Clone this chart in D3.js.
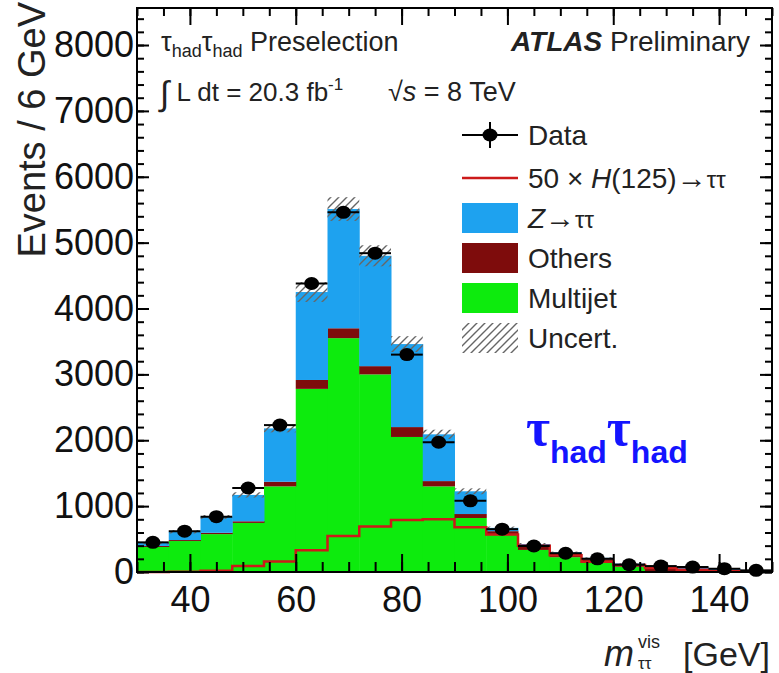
<!DOCTYPE html>
<html>
<head>
<meta charset="utf-8">
<script src="https://d3js.org/d3.v7.min.js"></script>
<style>
  body { margin: 0; background: #fff; }
  text { font-family: "Liberation Sans", Arial, sans-serif; }
</style>
</head>
<body>
<div id="chart"></div>
<script>
  // bin lower edges, GeV (6 GeV bins)
  const binLow = [30, 36, 42, 48, 54, 60, 66, 72, 78, 84, 90, 96, 102, 108, 114, 120, 126, 132, 138, 144];
  const binWidth = 6;

  // stacked backgrounds (events / bin)
  const multijet = [380, 470, 575, 745, 1300, 2780, 3550, 3000, 2050, 1300, 820, 560, 335, 225, 155, 80, 0, 0, 0, 0];
  const others   = [15, 15, 20, 25, 70, 135, 150, 125, 150, 80, 60, 60, 60, 60, 40, 40, 55, 35, 25, 10];
  const ztautau  = [45, 125, 240, 400, 810, 1335, 1810, 1675, 1260, 710, 345, 50, 30, 15, 20, 10, 35, 35, 25, 10];
  const uncert   = [20, 25, 30, 40, 60, 150, 180, 160, 120, 70, 45, 20, 15, 10, 8, 6, 5, 4, 3, 2];

  // 50 x H(125) -> tautau signal
  const higgs50 = [0, 5, 20, 90, 160, 330, 545, 690, 790, 800, 680, 570, 400, 255, 155, 105, 60, 35, 15, 5];

  // observed data
  const dataObs = [450, 620, 840, 1275, 2230, 4380, 5460, 4840, 3300, 1970, 1080, 650, 395, 285, 200, 110, 90, 75, 50, 25];

  const yMajor = [0, 1000, 2000, 3000, 4000, 5000, 6000, 7000, 8000];
  const xMajor = [40, 60, 80, 100, 120, 140];

  const colors = { multijet: '#0deb0d', others: '#7e0c0c', ztautau: '#1ea2ef', higgs: '#cc1a1a' };

  const W = 779, H = 673;
  const svg = d3.select('#chart').append('svg').attr('width', W).attr('height', H);

  const x = d3.scaleLinear().domain([30, 150]).range([137, 772]);
  const y = d3.scaleLinear().domain([0, 8562]).range([572, 8]);

  // hatch pattern for uncertainty band
  const defs = svg.append('defs');
  defs.append('pattern')
    .attr('id', 'hatch')
    .attr('patternUnits', 'userSpaceOnUse')
    .attr('width', 8).attr('height', 8)
    .append('path')
    .attr('d', 'M-1,1 l2,-2 M0,8 l8,-8 M7,9 l2,-2')
    .style('stroke', '#666')
    .style('stroke-width', 1.4);

  // stacked histogram
  const rows = binLow.map((lo, i) => ({ lo, multijet: multijet[i], others: others[i], ztautau: ztautau[i] }));
  const stack = d3.stack().keys(['multijet', 'others', 'ztautau'])(rows);

  svg.append('g').selectAll('g')
    .data(stack)
    .enter()
    .append('g')
    .style('fill', d => colors[d.key])
    .selectAll('rect')
    .data(d => d)
    .enter()
    .append('rect')
    .attr('x', d => x(d.data.lo))
    .attr('width', x(binWidth + 30) - x(30) + 0.5)
    .attr('y', d => y(d[1]))
    .attr('height', d => Math.max(0, y(d[0]) - y(d[1])));

  // uncertainty band
  const topLayer = stack[stack.length - 1];
  svg.append('g').selectAll('rect')
    .data(topLayer)
    .enter()
    .append('rect')
    .attr('x', d => x(d.data.lo))
    .attr('width', x(binWidth + 30) - x(30))
    .attr('y', (d, i) => y(d[1] + uncert[i]))
    .attr('height', (d, i) => y(d[1] - uncert[i]) - y(d[1] + uncert[i]))
    .style('fill', 'url(#hatch)');

  // signal step line
  const hPts = binLow.map((lo, i) => [lo, higgs50[i]]);
  hPts.push([binLow[binLow.length - 1] + binWidth, higgs50[higgs50.length - 1]]);
  svg.append('path')
    .datum(hPts)
    .attr('d', d3.line().x(d => x(d[0])).y(d => y(d[1])).curve(d3.curveStepAfter))
    .style('fill', 'none')
    .style('stroke', colors.higgs)
    .style('stroke-width', 2.5);

  // data points
  const pts = svg.append('g');
  pts.selectAll('line.xerr')
    .data(dataObs)
    .enter()
    .append('line')
    .attr('x1', (d, i) => x(binLow[i]))
    .attr('x2', (d, i) => x(binLow[i] + binWidth))
    .attr('y1', d => y(d)).attr('y2', d => y(d))
    .style('stroke', '#000').style('stroke-width', 2);
  pts.selectAll('line.yerr')
    .data(dataObs)
    .enter()
    .append('line')
    .attr('x1', (d, i) => x(binLow[i] + binWidth / 2))
    .attr('x2', (d, i) => x(binLow[i] + binWidth / 2))
    .attr('y1', d => y(d + Math.sqrt(d))).attr('y2', d => y(d - Math.sqrt(d)))
    .style('stroke', '#000').style('stroke-width', 2);
  pts.selectAll('ellipse')
    .data(dataObs)
    .enter()
    .append('ellipse')
    .attr('cx', (d, i) => x(binLow[i] + binWidth / 2))
    .attr('cy', d => y(d))
    .attr('rx', 7.5).attr('ry', 6.5)
    .style('fill', '#000');

  // axes (ROOT style, ticks inside)
  const axisStyle = g => {
    g.select('.domain').remove();
    g.selectAll('line').style('stroke', '#000').style('stroke-width', 2);
    g.selectAll('text').style('font-size', '36px').style('fill', '#111');
  };
  const yMinor = d3.range(0, 8562, 200);
  const xMinor = d3.range(30, 151, 5);

  svg.append('g').attr('transform', 'translate(137,0)')
    .call(d3.axisLeft(y).tickValues(yMajor).tickSize(-12).tickPadding(3).tickFormat(d3.format('d')))
    .call(axisStyle);
  svg.append('g').attr('transform', 'translate(137,0)')
    .call(d3.axisLeft(y).tickValues(yMinor).tickSize(-7).tickFormat(''))
    .call(axisStyle);
  svg.append('g').attr('transform', 'translate(772,0)')
    .call(d3.axisRight(y).tickValues(yMajor).tickSize(-12).tickFormat(''))
    .call(axisStyle);
  svg.append('g').attr('transform', 'translate(772,0)')
    .call(d3.axisRight(y).tickValues(yMinor).tickSize(-7).tickFormat(''))
    .call(axisStyle);

  svg.append('g').attr('transform', 'translate(0,572)')
    .call(d3.axisBottom(x).tickValues(xMajor).tickSize(-18).tickPadding(14).tickFormat(d3.format('d')))
    .call(axisStyle);
  svg.append('g').attr('transform', 'translate(0,572)')
    .call(d3.axisBottom(x).tickValues(xMinor).tickSize(-10).tickFormat(''))
    .call(axisStyle);
  svg.append('g').attr('transform', 'translate(0,8)')
    .call(d3.axisTop(x).tickValues(xMajor).tickSize(-17).tickFormat(''))
    .call(axisStyle);
  svg.append('g').attr('transform', 'translate(0,8)')
    .call(d3.axisTop(x).tickValues(xMinor).tickSize(-8).tickFormat(''))
    .call(axisStyle);

  // frame
  svg.append('rect')
    .attr('x', 137).attr('y', 8).attr('width', 635).attr('height', 564)
    .style('fill', 'none').style('stroke', '#000').style('stroke-width', 2);

  // axis titles
  svg.append('text')
    .attr('transform', 'translate(45,2) rotate(-90)')
    .style('text-anchor', 'end')
    .style('font-size', '38px').style('fill', '#222')
    .text('Events / 6 GeV');

  svg.append('text')
    .attr('x', 770).attr('y', 666)
    .style('text-anchor', 'end')
    .style('font-size', '34px').style('fill', '#222')
    .text('[GeV]');
  svg.append('text')
    .attr('x', 604).attr('y', 666)
    .style('font-size', '36px').style('font-style', 'italic').style('fill', '#222')
    .text('m');
  svg.append('text')
    .attr('x', 638).attr('y', 648)
    .style('font-size', '18px').style('fill', '#222')
    .text('vis');
  svg.append('text')
    .attr('x', 638).attr('y', 669)
    .style('font-size', '17px').style('fill', '#222')
    .text('ττ');

  // labels top left
  const t1 = svg.append('text').attr('x', 161).attr('y', 51).style('font-size', '27px').style('fill', '#222');
  t1.append('tspan').text('τ');
  t1.append('tspan').attr('dy', 6).style('font-size', '18px').text('had');
  t1.append('tspan').attr('dy', -6).text('τ');
  t1.append('tspan').attr('dy', 6).style('font-size', '18px').text('had');
  t1.append('tspan').attr('dy', -6).text(' Preselection');

  const t2 = svg.append('text').attr('x', 160).attr('y', 101).style('font-size', '26px').style('fill', '#222');
  t2.append('tspan').style('font-size', '34px').attr('dy', 4).text('∫');
  t2.append('tspan').attr('dy', -4).text(' L dt = 20.3 fb');
  t2.append('tspan').attr('dy', -11).style('font-size', '17px').text('-1');
  svg.append('text').attr('x', 388).attr('y', 101).style('font-size', '27px').style('fill', '#222')
    .text('√').append('tspan').style('font-style', 'italic').text('s')
    .append('tspan').style('font-style', 'normal').text(' = 8 TeV');

  const t3 = svg.append('text').attr('x', 750).attr('y', 51).style('text-anchor', 'end').style('font-size', '28px').style('fill', '#222');
  t3.append('tspan').style('font-weight', 'bold').style('font-style', 'italic').text('ATLAS');
  t3.append('tspan').text(' Preliminary');

  // legend
  const lx = 462, lw = 56, lh = 30, tx = 528;
  const legRows = [135, 178, 218, 258, 298, 338];
  const lg = svg.append('g');
  // Data
  lg.append('line').attr('x1', lx).attr('x2', lx + lw).attr('y1', legRows[0]).attr('y2', legRows[0]).style('stroke', '#000').style('stroke-width', 2);
  lg.append('line').attr('x1', lx + lw / 2).attr('x2', lx + lw / 2).attr('y1', legRows[0] - 13).attr('y2', legRows[0] + 13).style('stroke', '#000').style('stroke-width', 2);
  lg.append('ellipse').attr('cx', lx + lw / 2).attr('cy', legRows[0]).attr('rx', 7.5).attr('ry', 6.5).style('fill', '#000');
  // Higgs
  lg.append('line').attr('x1', lx).attr('x2', lx + lw).attr('y1', legRows[1]).attr('y2', legRows[1]).style('stroke', colors.higgs).style('stroke-width', 2.5);
  // boxes
  [[colors.ztautau, 2], [colors.others, 3], [colors.multijet, 4], ['url(#hatch)', 5]].forEach(([c, r]) => {
    lg.append('rect').attr('x', lx).attr('y', legRows[r] - lh / 2).attr('width', lw).attr('height', lh).style('fill', c);
  });
  const legText = (r) => lg.append('text').attr('x', tx).attr('y', legRows[r] + 10).style('font-size', '28px').style('fill', '#222');
  legText(0).text('Data');
  const lt1 = legText(1);
  lt1.append('tspan').text('50 × ');
  lt1.append('tspan').style('font-style', 'italic').text('H');
  lt1.append('tspan').text('(125)');
  lt1.append('tspan').style('font-size', '30px').text('→');
  lt1.append('tspan').style('font-size', '24px').text('ττ');
  const lt2 = legText(2);
  lt2.append('tspan').style('font-style', 'italic').text('Z');
  lt2.append('tspan').style('font-size', '30px').text('→');
  lt2.append('tspan').style('font-size', '24px').text('ττ');
  legText(3).text('Others');
  legText(4).text('Multijet');
  legText(5).text('Uncert.');

  // big blue channel label
  const bl = svg.append('text').attr('x', 526).attr('y', 445).style('fill', '#1414ff').style('font-weight', 'bold');
  bl.append('tspan').style('font-family', '"Liberation Serif", serif').style('font-size', '52px').text('τ');
  bl.append('tspan').attr('dy', 18).style('font-size', '32px').text('had');
  bl.append('tspan').attr('dy', -18).style('font-family', '"Liberation Serif", serif').style('font-size', '52px').text('τ');
  bl.append('tspan').attr('dy', 18).style('font-size', '32px').text('had');
</script>
</body>
</html>
